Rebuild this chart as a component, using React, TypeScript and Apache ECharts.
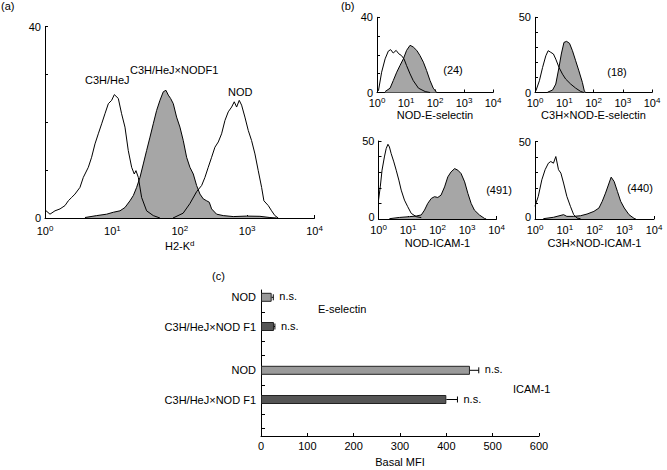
import React, { useEffect, useRef } from 'react';
import * as echarts from 'echarts';

const FONT = '"Liberation Sans", Arial, Helvetica, sans-serif';

// ---------- Panel (a): H2-Kd histograms (x = log10 fluorescence) ----------
const aC3HX = [0, 0.074, 0.148, 0.223, 0.297, 0.346, 0.396, 0.445, 0.519, 0.569, 0.643, 0.692, 0.742, 0.791, 0.841, 0.89, 0.94, 0.989, 1.029, 1.088, 1.137, 1.187, 1.236, 1.286, 1.325, 1.35, 1.385, 1.434, 1.508, 1.607, 1.706];
const aC3HY = [1.7, 0.8, 1.5, 1.9, 2.6, 3.6, 4.3, 5.0, 6.4, 8.5, 10.6, 12.7, 15.5, 17.6, 19.7, 21.8, 23.9, 24.6, 25.8, 25.0, 21.8, 19.0, 14.1, 10.6, 9.2, 9.9, 8.5, 4.3, 1.5, 0.5, 0];

const aF1X = [0.593, 0.767, 0.915, 1.014, 1.113, 1.187, 1.261, 1.311, 1.36, 1.41, 1.459, 1.508, 1.558, 1.607, 1.657, 1.706, 1.756, 1.795, 1.83, 1.864, 1.904, 1.953, 2.003, 2.052, 2.102, 2.151, 2.201, 2.25, 2.3, 2.349, 2.399, 2.438, 2.473, 2.547, 2.646, 2.794, 2.992, 3.19, 3.338, 3.44];
const aF1Y = [0.1, 0.5, 0.8, 1.2, 1.5, 2.2, 3.6, 4.7, 6.4, 8.5, 11.3, 14.1, 16.9, 19.7, 22.5, 24.6, 26.4, 26.7, 25.7, 25.0, 23.9, 21.1, 19.0, 16.2, 12.7, 10.6, 9.2, 6.8, 5.0, 4.0, 3.6, 3.3, 1.9, 0.8, 0.5, 0.3, 0.4, 0.35, 0.1, 0];

const aNODX = [1.9, 2.05, 2.15, 2.25, 2.325, 2.374, 2.423, 2.473, 2.522, 2.572, 2.621, 2.671, 2.72, 2.77, 2.809, 2.844, 2.883, 2.918, 2.967, 3.017, 3.066, 3.116, 3.165, 3.215, 3.249, 3.314, 3.363, 3.412, 3.462];
const aNODY = [0, 1.0, 3.0, 5.5, 6.8, 8.5, 10.6, 12.7, 14.8, 15.9, 17.6, 20.4, 22.2, 23.2, 24.3, 23.2, 24.6, 23.6, 21.1, 18.3, 16.2, 13.4, 9.9, 6.4, 3.6, 2.6, 1.5, 0.5, 0];

// ---------- Panel (b): four small histograms ----------
const bTLOpenX = [0.05, 0.16, 0.28, 0.39, 0.47, 0.56, 0.66, 0.75, 0.84, 0.93, 1.02, 1.14, 1.25, 1.43, 1.66, 1.83];
const bTLOpenY = [0.9, 10.8, 17.9, 22.0, 22.8, 21.0, 22.4, 20.6, 19.7, 17.9, 14.3, 9.9, 6.3, 2.3, 0.5, 0];
const bTLFillX = [0.28, 0.45, 0.56, 0.68, 0.79, 0.91, 1.02, 1.14, 1.25, 1.37, 1.48, 1.6, 1.71, 1.83, 1.94, 2.06];
const bTLFillY = [0.5, 2.3, 6.3, 10.8, 14.3, 17.9, 22.4, 25.1, 24.2, 22.4, 19.7, 16.1, 11.7, 6.3, 2.3, 0];

const bTROpenX = [0.03, 0.15, 0.26, 0.37, 0.45, 0.54, 0.63, 0.71, 0.82, 0.94, 1.05, 1.22, 1.39, 1.56, 1.67];
const bTROpenY = [1.1, 7.8, 16.7, 24.4, 27.8, 26.7, 25.6, 22.2, 16.7, 12.2, 8.9, 5.6, 2.9, 0.7, 0];
const bTRFillX = [0.43, 0.6, 0.71, 0.82, 0.9, 0.99, 1.08, 1.18, 1.28, 1.39, 1.5, 1.62, 1.69, 1.74];
const bTRFillY = [0.2, 1.6, 5.6, 16.7, 25.6, 33.3, 34.0, 32.7, 27.8, 21.1, 14.4, 6.7, 0.7, 0];

const bBLOpenX = [0, 0.06, 0.12, 0.2, 0.26, 0.32, 0.37, 0.43, 0.52, 0.6, 0.69, 0.77, 0.88, 0.99, 1.11, 1.28, 1.45];
const bBLOpenY = [12.0, 20.6, 31.3, 39.8, 45.1, 47.9, 46.2, 41.9, 36.6, 31.3, 24.9, 18.5, 12.1, 7.9, 3.6, 1.5, 0.9];
const bBLFillX = [0.37, 0.71, 1.05, 1.28, 1.45, 1.56, 1.67, 1.79, 1.9, 2.01, 2.12, 2.24, 2.35, 2.46, 2.58, 2.69, 2.8, 2.92, 3.03, 3.14, 3.25, 3.42, 3.59, 3.65];
const bBLFillY = [0.2, 1.0, 1.5, 1.9, 2.6, 5.7, 10.0, 13.2, 14.3, 13.8, 15.3, 20.6, 27.0, 30.2, 32.3, 31.3, 29.1, 23.8, 16.4, 10.0, 5.7, 2.6, 0.4, 0];

const bBROpenX = [0, 0.11, 0.23, 0.34, 0.45, 0.53, 0.62, 0.7, 0.79, 0.87, 0.96, 1.07, 1.19, 1.3, 1.41, 1.53];
const bBROpenY = [8.2, 14.6, 25.3, 31.8, 36.0, 37.1, 36.0, 40.3, 31.8, 29.6, 23.2, 14.6, 8.2, 2.8, 0.6, 0.2];
const bBRFillX = [0.28, 0.62, 0.96, 1.07, 1.3, 1.53, 1.75, 1.98, 2.15, 2.26, 2.37, 2.49, 2.56, 2.66, 2.77, 2.88, 3.0, 3.16, 3.33, 3.39];
const bBRFillY = [0.2, 1.1, 2.8, 1.7, 1.7, 2.1, 3.2, 4.9, 7.1, 11.4, 16.7, 23.2, 27.0, 24.2, 17.8, 11.4, 7.1, 2.8, 0.4, 0];

const decadeExponents = [0, 1, 2, 3, 4];

// ---------- Panel (c): basal MFI bars ----------
const cSlots = ['NOD', '', 'C3H/HeJ×NOD F1', '', '', 'NOD', '', 'C3H/HeJ×NOD F1', '', ''];
const cBarSlot = [0, 2, 5, 7];
const cBarValue = [23, 28, 451, 400];
const cBarError = [3.5, 2, 19, 24];
const cBarStrain = ['NOD', 'F1', 'NOD', 'F1'];

const STRAIN_COLOR: Record<string, string> = { NOD: '#9a9a9a', F1: '#555555' };

const pair = (xs: number[], ys: number[]) => xs.map((x, i) => [x, ys[i]]);

export default function App() {
  const ref = useRef<HTMLDivElement>(null);

  useEffect(() => {
    if (!ref.current) return;
    const chart = echarts.init(ref.current, undefined, { renderer: 'svg' });

    const line = { lineStyle: { color: '#000', width: 1 } };
    const tick = { show: true, inside: true, length: 3, lineStyle: { color: '#000', width: 1 } };

    const grids = [
      { left: 45, top: 26.7, width: 269.5, height: 191.3 },
      { left: 377, top: 17.3, width: 116, height: 75.2 },
      { left: 535, top: 17.3, width: 117, height: 75.2 },
      { left: 378.5, top: 141, width: 118, height: 78 },
      { left: 535, top: 141.5, width: 119, height: 77.5 },
      { left: 261, top: 290, width: 278, height: 146 },
    ].map((g) => ({ ...g, outerBoundsMode: 'none', containLabel: false }));

    const histX = (gridIndex: number, margin: number, name: string, nameGap: number) => ({
      gridIndex,
      type: 'value',
      min: decadeExponents[0],
      max: decadeExponents[decadeExponents.length - 1],
      interval: 1,
      axisLine: { show: true, onZero: false, ...line },
      axisTick: tick,
      splitLine: { show: false },
      axisLabel: {
        margin,
        formatter: (v: number) => `{b|10}{s|${v}}`,
        rich: {
          b: { fontSize: 11, fontFamily: FONT, color: '#000', lineHeight: 13 },
          s: { fontSize: 8, fontFamily: FONT, color: '#000', verticalAlign: 'top', lineHeight: 8 },
        },
      },
      name,
      nameLocation: 'middle',
      nameGap,
      nameTextStyle: {
        fontSize: 11,
        fontFamily: FONT,
        color: '#000',
        rich: {
          n: { fontSize: 11, fontFamily: FONT, color: '#000', lineHeight: 13 },
          s: { fontSize: 8, fontFamily: FONT, color: '#000', verticalAlign: 'top', lineHeight: 8 },
        },
      },
    });

    const histY = (gridIndex: number, yMax: number, zeroLift: number) => ({
      gridIndex,
      type: 'value',
      min: 0,
      max: yMax,
      interval: 10,
      axisLine: { show: true, onZero: false, ...line },
      axisTick: tick,
      splitLine: { show: false },
      axisLabel: {
        margin: 4,
        fontSize: 11,
        fontFamily: FONT,
        color: '#000',
        formatter: (v: number) => (v === 0 ? '{z|0}' : v === yMax ? String(v) : ''),
        rich: {
          z: { fontSize: 11, fontFamily: FONT, color: '#000', lineHeight: 11, padding: [0, 0, zeroLift, 0] },
        },
      },
    });

    const openSeries = (idx: number, xs: number[], ys: number[]) => ({
      type: 'line',
      xAxisIndex: idx,
      yAxisIndex: idx,
      data: pair(xs, ys),
      symbol: 'none',
      lineStyle: { color: '#000', width: 1 },
      z: 4,
    });
    const fillSeries = (idx: number, xs: number[], ys: number[]) => ({
      type: 'line',
      xAxisIndex: idx,
      yAxisIndex: idx,
      data: pair(xs, ys),
      symbol: 'none',
      lineStyle: { color: '#000', width: 1 },
      areaStyle: { color: '#a6a6a6', opacity: 1 },
      z: 3,
    });

    const barData = cBarSlot.map((slot, i) => ({
      value: [cBarValue[i], slot],
      itemStyle: { color: STRAIN_COLOR[cBarStrain[i]], borderColor: '#222', borderWidth: 1 },
    }));
    const errData = cBarSlot.map((slot, i) => [cBarValue[i], slot, cBarError[i]]);

    const txt = (text: string, x: number, y: number, align = 'left') => ({
      type: 'text',
      x,
      y,
      style: {
        text,
        fontSize: 11,
        fontFamily: FONT,
        fill: '#000',
        textAlign: align,
        align,
        textVerticalAlign: 'middle',
        verticalAlign: 'middle',
      },
    });

    chart.setOption({
      animation: false,
      backgroundColor: '#fff',
      grid: grids,
      xAxis: [
        histX(0, 6, '{n|H2-K}{s|d}', 21),
        histX(1, 4, 'NOD-E-selectin', 16),
        histX(2, 4, 'C3H×NOD-E-selectin', 16),
        histX(3, 4, 'NOD-ICAM-1', 18),
        histX(4, 4, 'C3H×NOD-ICAM-1', 18),
        {
          gridIndex: 5,
          type: 'value',
          min: 0,
          max: 600,
          interval: 100,
          axisLine: { show: true, onZero: false, ...line },
          axisTick: tick,
          splitLine: { show: false },
          axisLabel: { margin: 4, fontSize: 11, fontFamily: FONT, color: '#000' },
          name: 'Basal MFI',
          nameLocation: 'middle',
          nameGap: 20,
          nameTextStyle: { fontSize: 11, fontFamily: FONT, color: '#000' },
        },
      ],
      yAxis: [
        histY(0, 40, 0),
        histY(1, 40, 0),
        histY(2, 50, 0),
        histY(3, 50, 5),
        histY(4, 50, 5),
        {
          gridIndex: 5,
          type: 'category',
          inverse: true,
          data: cSlots,
          axisLine: { show: true, ...line },
          axisTick: { ...tick, length: 4, alignWithLabel: true, interval: 0 },
          axisLabel: { interval: 0, margin: 5, fontSize: 11, fontFamily: FONT, color: '#000' },
          splitLine: { show: false },
        },
      ],
      series: [
        // panel a
        openSeries(0, aNODX, aNODY),
        fillSeries(0, aF1X, aF1Y),
        openSeries(0, aC3HX, aC3HY),
        // panel b
        fillSeries(1, bTLFillX, bTLFillY),
        openSeries(1, bTLOpenX, bTLOpenY),
        fillSeries(2, bTRFillX, bTRFillY),
        openSeries(2, bTROpenX, bTROpenY),
        fillSeries(3, bBLFillX, bBLFillY),
        openSeries(3, bBLOpenX, bBLOpenY),
        fillSeries(4, bBRFillX, bBRFillY),
        openSeries(4, bBROpenX, bBROpenY),
        // panel c
        {
          type: 'bar',
          xAxisIndex: 5,
          yAxisIndex: 5,
          barWidth: 9,
          data: barData,
          z: 2,
        },
        {
          type: 'custom',
          xAxisIndex: 5,
          yAxisIndex: 5,
          data: errData,
          encode: { x: 0, y: 1 },
          z: 5,
          renderItem: (_p: any, api: any) => {
            const v = api.value(0);
            const c = api.value(1);
            const e = api.value(2);
            const p0 = api.coord([v, c]);
            const p1 = api.coord([v + e, c]);
            return {
              type: 'group',
              children: [
                { type: 'line', shape: { x1: p0[0], y1: p0[1], x2: p1[0], y2: p1[1] }, style: { stroke: '#000', lineWidth: 1 } },
                { type: 'line', shape: { x1: p1[0], y1: p1[1] - 3, x2: p1[0], y2: p1[1] + 3 }, style: { stroke: '#000', lineWidth: 1 } },
                {
                  type: 'text',
                  x: p1[0] + 6,
                  y: p1[1] - 1,
                  style: { text: 'n.s.', fontSize: 11, fontFamily: FONT, fill: '#000', align: 'left', verticalAlign: 'middle', textAlign: 'left', textVerticalAlign: 'middle' },
                },
              ],
            };
          },
        },
      ],
      graphic: [
        txt('(a)', 1, 6),
        txt('(b)', 341, 6),
        txt('(c)', 212, 276),
        txt('C3H/HeJ', 85, 80),
        txt('C3H/HeJ×NODF1', 130, 70),
        txt('NOD', 228, 92),
        txt('(24)', 453, 70, 'center'),
        txt('(18)', 617, 72, 'center'),
        txt('(491)', 499, 190, 'center'),
        txt('(440)', 640, 188, 'center'),
        txt('E-selectin', 318, 309),
        txt('ICAM-1', 513, 389),
      ],
    });

    return () => chart.dispose();
  }, []);

  return (
    <div
      ref={ref}
      style={{ position: 'fixed', left: 0, top: 0, width: 667, height: 470, background: '#fff' }}
    />
  );
}
